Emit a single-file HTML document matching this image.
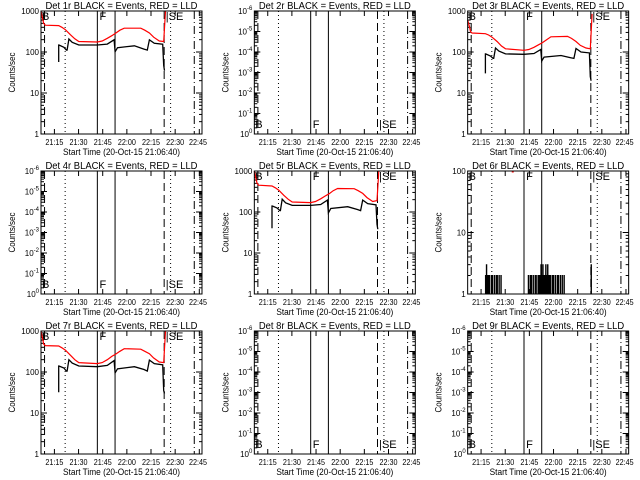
<!DOCTYPE html>
<html><head><meta charset="utf-8"><style>
html,body{margin:0;padding:0;background:#fff;}
svg{display:block;font-family:"Liberation Sans",sans-serif;}
</style></head><body>
<svg id="chart" width="640" height="480" viewBox="0 0 640 480" xmlns="http://www.w3.org/2000/svg">
<rect width="640" height="480" fill="#fff"/>
</svg>
<script>
// time in minutes after 21:06:40
const xTickLabels = ["21:15","21:30","21:45","22:00","22:15","22:30","22:45"];
const xTickMinutes = [8.33,23.33,38.33,53.33,68.33,83.33,98.33];
const vlineMinutes = [2.2,15,35,46,76.5,80.5,95.2];
const vlineStyles = ["dash","dot","solid","solid","dash","dot","dashdot"];

const redT1 = [0,1.2,1.7,2.7,11,13,15.2,18.3,21,23.5,35,38,41.2,44,46.5,49,51.7,62,64.5,67.3,70,73.5,76.2,77.3];
const redV1 = [1000,600,500,450,440,400,348,263,210,180,175,185,216,250,290,340,380,380,340,290,230,185,180,1000];
const blackT1 = [11,11,11.2,14.2,15.8,16.2,17.3,19.4,23.5,35,41.2,45.4,46,47.5,58,64,66,67.3,70.4,75.6,76.2,76.7];
const blackV1 = [57,148,148,130,111,111,208,172,148,148,156,198,101,127,142,118,111,198,163,155,47,35];

const redT3 = [0,1.2,1.7,2.7,11,13,15.2,18.3,21,23.5,35,38,41.2,44,46.5,49,51.7,62,64.5,67.3,70,73.5,76.2,77.3];
const redV3 = [600,400,320,290,280,260,230,180,140,120,110,115,130,150,170,200,235,240,215,180,145,125,120,850];
const blackT3 = [11,11,11.2,14.2,15.8,16.2,17.3,19.4,23.5,35,41.2,45.4,46,47.5,58,64,66,67.3,70.4,75.6,76.2,76.7];
const blackV3 = [30,90,90,80,70,70,125,105,90,88,92,115,60,75,82,72,70,122,100,95,25,20];

const redT5 = [0,1.2,1.7,2.7,11,13,15.2,18.3,21,23.5,35,38,41.2,44,46.5,49,51.7,62,64.5,67.3,70,73.5,76.2,77.3];
const redV5 = [1000,600,500,450,430,390,340,255,205,175,170,180,210,245,280,330,375,370,330,285,225,180,190,1000];
const blackT5 = [11,11,11.2,14.2,15.8,16.2,17.3,19.4,23.5,35,41.2,45.4,46,47.5,58,64,66,67.3,70.4,75.6,76.2,76.7];
const blackV5 = [40,140,140,125,108,108,205,168,145,145,152,195,95,122,135,115,108,195,160,150,50,38];

const redT7 = [0,1.2,1.7,2.7,11,13,15.2,18.3,21,23.5,35,38,41.2,44,46.5,49,51.7,62,64.5,67.3,70,73.5,76.2,77.3];
const redV7 = [1000,600,480,440,430,390,340,255,200,170,160,170,200,240,275,320,370,360,320,280,220,175,170,1000];
const blackT7 = [11,11,11.2,14.2,15.8,16.2,17.3,19.4,23.5,35,41.2,45.4,46,47.5,58,64,66,67.3,70.4,75.6,76.2,76.7];
const blackV7 = [32,140,140,125,105,105,200,165,140,135,145,190,95,120,135,115,105,195,160,150,35,30];

const blackT6 = [11,11.6,12.2,12.8,13.4,14,14.6,15.2,15.8,16.4,17,17.6,18.2,18.8,19.4,20,20.6,21.2,37,37.6,38.2,38.8,39.4,40,40.6,41.2,41.8,42.4,43,43.6,44.2,44.8,45.4,46,46.6,47.2,47.8,48.4,49,49.6,50.2,50.8,51.4,52,52.6,53.2,53.8,54.4,55,55.6,56.2,56.8,57.4,58,58.6,59.2,59.8,60.4,61,76.6];
const blackV6 = [2,3,2,2,2,1,2,2,1,2,1,2,2,1,2,1,2,1,1,2,1,2,2,1,2,1,2,2,1,2,2,2,3,2,3,2,2,3,2,3,2,2,2,1,2,2,1,2,1,2,2,1,2,1,2,1,2,1,1,3];
const redT6 = [28];
const redV6 = [100];

const panels = [
 {id:1,type:"lin3",rt:redT1,rv:redV1,bt:blackT1,bv:blackV1,lt:"top"},
 {id:2,type:"neg",lt:"bot"},
 {id:3,type:"lin3",rt:redT3,rv:redV3,bt:blackT3,bv:blackV3,lt:"top"},
 {id:4,type:"neg",lt:"bot"},
 {id:5,type:"lin3",rt:redT5,rv:redV5,bt:blackT5,bv:blackV5,lt:"top"},
 {id:6,type:"lin2",bt:blackT6,bv:blackV6,rt:redT6,rv:redV6,lt:"top",step:true},
 {id:7,type:"lin3",rt:redT7,rv:redV7,bt:blackT7,bv:blackV7,lt:"top"},
 {id:8,type:"neg",lt:"bot"},
 {id:9,type:"neg",lt:"bot"}
];

const svg = document.getElementById('chart');
const NS = "http://www.w3.org/2000/svg";
function mk(tag, attrs, parent){
  const e = document.createElementNS(NS, tag);
  for (const k in attrs) e.setAttribute(k, attrs[k]);
  (parent||svg).appendChild(e);
  return e;
}
const dashes = {dash:"8,4",dot:"1,3",solid:"",dashdot:"8,3,1,3"};

panels.forEach((p, i) => {
  const c = i % 3, r = Math.floor(i / 3);
  const X0 = c*213.33 + 41, X1 = X0 + 161, Y0 = r*160 + 11, Y1 = Y0 + 123;
  const g = mk('g', {});
  
  
  const xs = m => X0 + m * 1.61;
  let decades;
  if (p.type === "lin3") { decades = 3; }
  else if (p.type === "lin2") { decades = 2; }
  else { decades = 6; }
  const ys = v => Y1 - Math.log10(v) / decades * (Y1 - Y0);

  const t = mk('text', {x:(X0+X1)/2, y:Y0-2, 'font-size':10, 'text-anchor':'middle', textLength:152, lengthAdjust:'spacingAndGlyphs'}, g);
  t.textContent = "Det " + p.id + "r BLACK = Events, RED = LLD";
  
  

  const yt = mk('text', {x:0, y:0, 'font-size':9, 'text-anchor':'middle', transform:`translate(${X0-26},${(Y0+Y1)/2}) rotate(-90)`, textLength:40, lengthAdjust:'spacingAndGlyphs'}, g);
  yt.textContent = "Counts/sec";
  
  

  const xt = mk('text', {x:(X0+X1)/2, y:Y1+21, 'font-size':9, 'text-anchor':'middle', textLength:117, lengthAdjust:'spacingAndGlyphs'}, g);
  xt.textContent = "Start Time (20-Oct-15 21:06:40)";
  
  

  xTickMinutes.forEach((m, k) => {
    const x = xs(m);
    if (x <= X1 + 1) {
      mk('line', {x1:x, x2:x, y1:Y1, y2:Y1-5, stroke:'#000'}, g);
      mk('line', {x1:x, x2:x, y1:Y0, y2:Y0+5, stroke:'#000'}, g);
    }
    const tl = mk('text', {x:Math.min(x, X1-4), y:Y1+11, 'font-size':8, 'text-anchor':'middle', textLength:18, lengthAdjust:'spacingAndGlyphs'}, g);
    tl.textContent = xTickLabels[k];
    
    
  });

  for (let d = 0; d <= decades; d++) {
    const y = Y1 - d / decades * (Y1 - Y0);
    mk('line', {x1:X0, x2:X0+6, y1:y, y2:y, stroke:'#000'}, g);
    mk('line', {x1:X1, x2:X1-6, y1:y, y2:y, stroke:'#000'}, g);
    if (d < decades) for (let mnr = 2; mnr <= 9; mnr++) {
      const yy = y - Math.log10(mnr) / decades * (Y1 - Y0);
      mk('line', {x1:X0, x2:X0+3, y1:yy, y2:yy, stroke:'#000'}, g);
      mk('line', {x1:X1, x2:X1-3, y1:yy, y2:yy, stroke:'#000'}, g);
    }
    const yl = mk('text', {x:X0-2, y:y+3, 'font-size':8, 'text-anchor':'end'}, g);
    
    
    if (p.type === "neg") {
      yl.textContent = "10";
      const sp = mk('tspan', {dy:-4, 'font-size':6}, yl);
      sp.textContent = d === 0 ? "0" : "-" + d;
    } else {
      yl.textContent = String(Math.pow(10, d));
    }
  }

  vlineMinutes.forEach((m, k) => {
    const x = xs(m);
    const l = mk('line', {x1:x, x2:x, y1:Y0, y2:Y1, stroke:'#000', 'stroke-width':1}, g);
    if (dashes[vlineStyles[k]]) l.setAttribute('stroke-dasharray', dashes[vlineStyles[k]]);
    
    
  });

  const ly = p.lt === "top" ? Y0 + 9 : Y1 - 6;
  [["B",0.6],["F",36.3],["|SE",77.5]].forEach(([s, m]) => {
    const lt = mk('text', {x:xs(m), y:ly, 'font-size':11}, g);
    lt.textContent = s;
    
    
  });

  if (p.rt) {
    if (p.rt.length === 1) {
      const dot = mk('rect', {x:xs(p.rt[0])-1, y:ys(p.rv[0]), width:2, height:1.5, fill:'#ff0000'}, g);
      
      
    } else {
      const pts = p.rt.map((m, k) => xs(m).toFixed(1) + "," + ys(p.rv[k]).toFixed(1)).join(" ");
      const pl = mk('polyline', {points:pts, fill:'none', stroke:'#ff0000', 'stroke-width':1.2}, g);
      
      
    }
  }
  if (p.bt) {
    if (p.step) {
      let d = "";
      p.bt.forEach((m, k) => {
        if (p.bv[k] <= 1) return;
        const x = xs(m), y = ys(p.bv[k]), yb = ys(1);
        d += `M${x.toFixed(1)},${yb.toFixed(1)}V${y.toFixed(1)}H${(x+0.5).toFixed(1)}V${yb.toFixed(1)}`;
      });
      const pl = mk('path', {d:d, fill:'none', stroke:'#000', 'stroke-width':0.9}, g);
      
      
    } else {
      const pts = p.bt.map((m, k) => xs(m).toFixed(1) + "," + ys(p.bv[k]).toFixed(1)).join(" ");
      const pl = mk('polyline', {points:pts, fill:'none', stroke:'#000', 'stroke-width':1.3}, g);
      
      
    }
  }

  const fr = mk('rect', {x:X0, y:Y0, width:X1-X0, height:Y1-Y0, fill:'none', stroke:'#000'}, g);
  
  
});
</script>
</body></html>
